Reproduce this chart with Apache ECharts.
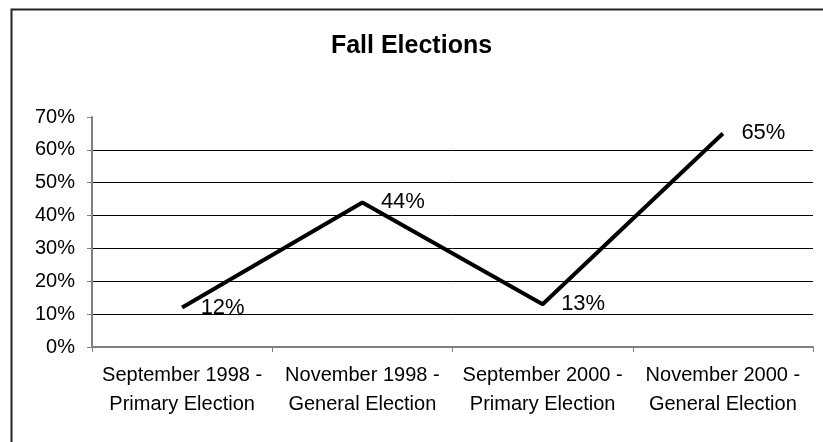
<!DOCTYPE html>
<html>
<head>
<meta charset="utf-8">
<title>Fall Elections</title>
<script src="https://cdn.jsdelivr.net/npm/echarts@6/dist/echarts.min.js"></script>
<style>
  html, body { margin: 0; padding: 0; background: #fff; }
  #chart { width: 823px; height: 442px; }
</style>
</head>
<body>
<div id="chart"></div>
<script>
// Election turnout by contest
const categories = [
  'September 1998 -\nPrimary Election',
  'November 1998 -\nGeneral Election',
  'September 2000 -\nPrimary Election',
  'November 2000 -\nGeneral Election'
];
const turnout = [12, 44, 13, 65];
const yMin = 0;
const yMax = 70;
const yStep = 10;

const FONT = '"Liberation Sans", Arial, sans-serif';

const chart = echarts.init(document.getElementById('chart'), null, { renderer: 'canvas' });

chart.setOption({
  backgroundColor: '#ffffff',
  animation: false,
  title: {
    text: 'Fall Elections',
    left: 'center',
    top: 29,
    textStyle: { fontFamily: FONT, fontSize: 25, fontWeight: 'bold', color: '#000' }
  },
  graphic: [{
    type: 'rect',
    left: 9,
    top: 7,
    shape: { width: 900, height: 500 },
    style: { fill: 'none', stroke: '#222', lineWidth: 2 },
    silent: true
  }],
  grid: { left: 92, right: 10, top: 117, bottom: 95, containLabel: false },
  xAxis: {
    type: 'category',
    data: categories,
    boundaryGap: true,
    axisLine: { lineStyle: { color: '#808080', width: 2 } },
    axisTick: { show: true, inside: false, length: 5, interval: 0, lineStyle: { color: '#808080', width: 1 } },
    axisLabel: {
      interval: 0,
      margin: 14,
      fontFamily: FONT,
      fontSize: 20,
      lineHeight: 29,
      color: '#000'
    },
    splitLine: { show: false }
  },
  yAxis: {
    type: 'value',
    min: yMin,
    max: yMax,
    interval: yStep,
    axisLine: { show: true, lineStyle: { color: '#808080', width: 2 } },
    axisTick: { show: true, inside: false, length: 5, lineStyle: { color: '#808080', width: 1 } },
    axisLabel: {
      formatter: '{value}%',
      margin: 17,
      fontFamily: FONT,
      fontSize: 20,
      color: '#000'
    },
    splitLine: {
      show: true,
      showMinLine: false,
      showMaxLine: false,
      lineStyle: { color: '#000', width: 1 }
    }
  },
  series: [{
    type: 'line',
    data: turnout,
    symbol: 'circle',
    symbolSize: 1,
    showSymbol: true,
    itemStyle: { color: 'rgba(0,0,0,0)', borderWidth: 0 },
    lineStyle: { color: '#000', width: 4 },
    label: {
      show: true,
      position: 'right',
      distance: 18,
      formatter: '{c}%',
      fontFamily: FONT,
      fontSize: 22,
      color: '#000'
    },
    z: 5
  }]
});
</script>
</body>
</html>
